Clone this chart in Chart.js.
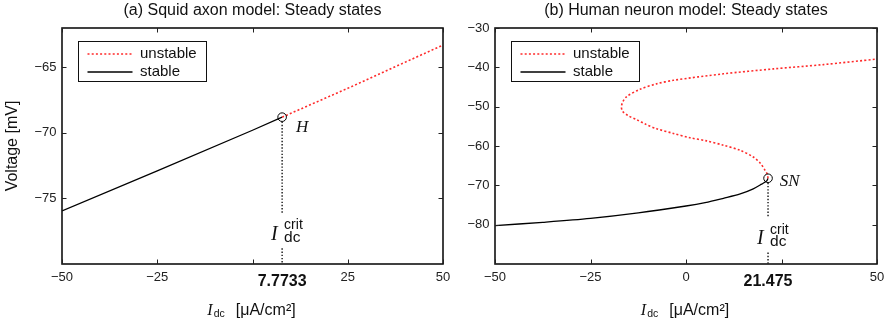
<!DOCTYPE html>
<html>
<head>
<meta charset="utf-8">
<script src="https://cdn.jsdelivr.net/npm/chart.js@4/dist/chart.umd.min.js"></script>
<style>
  html, body { margin: 0; padding: 0; background: #fff; width: 890px; height: 327px; overflow: hidden; }
  canvas { position: absolute; top: 0; }
  #squid { left: 0; }
  #human { left: 440px; }
</style>
</head>
<body>
<canvas id="squid" width="460" height="327"></canvas>
<canvas id="human" width="450" height="327"></canvas>
<script>
// ---------------- data ----------------
const xTickValues = [-50, -25, 0, 25, 50];

// (a) Squid axon model
const squidTitle = '(a) Squid axon model: Steady states';
const squidCritI = 7.7733;
const squidCritV = -68.8;
const squidStableI = [-50, -25, 0, 7.7733];
const squidStableV = [-75.95, -72.9, -69.8, -68.8];
const squidUnstableI = [7.7733, 25, 50];
const squidUnstableV = [-68.8, -66.6, -63.3];
const squidYTicks = [-75, -70, -65];
const squidHiddenXLabel = 0;
const squidPointName = 'H';

// (b) Human neuron model
const humanTitle = '(b) Human neuron model: Steady states';
const humanCritI = 21.475;
const humanCritV = -68.2;
const humanStableI = [-50, -37.5, -25, -12.5, 0, 5, 9.8, 14.2, 17.6, 19.8, 21.1, 21.475];
const humanStableV = [-80.25, -79.4, -78.4, -77.0, -75.25, -74.4, -73.3, -72.2, -70.9, -69.7, -68.9, -68.2];
const humanUnstableI = [21.475, 21.3, 20.7, 19.4, 17.6, 14.2, 9.8, 5.4, 1.05, -3.3, -7.7, -10.5, -12.9, -15.1, -16.6, -16.9, -16.6, -15.6, -12.1, -7.7, -3.3, 9.8, 22.9, 36, 50];
const humanUnstableV = [-68.2, -67.2, -66.2, -64.3, -62.8, -61.1, -59.8, -58.7, -57.9, -56.8, -55.6, -54.5, -53.3, -52.3, -51.2, -50.1, -48.9, -47.5, -45.6, -44.2, -43.3, -41.65, -40.4, -39.3, -37.9];
const humanYTicks = [-80, -70, -60, -50, -40, -30];
const humanHiddenXLabel = 25;
const humanPointName = 'SN';

const legendNames = ['unstable', 'stable'];
const yAxisTitle = 'Voltage [mV]';

// ---------------- rendering ----------------
const SANS = '"Liberation Sans", Arial, Helvetica, sans-serif';
const SERIF = '"Liberation Serif", "Times New Roman", serif';
Chart.defaults.font.family = SANS;
Chart.defaults.color = '#111';

const fmt = v => (v < 0 ? '\u2212' + Math.abs(v) : String(v));
const pts = (xs, ys) => xs.map((x, i) => ({ x: x, y: ys[i] }));
const LEG_PAD = 3;
const LEG_LINE = 45;
const LEG_FONT = 15;

function makePanel(id, p) {
  const decor = {
    id: 'decor',
    afterLayout(chart) {
      const lg = chart.legend, ca = chart.chartArea;
      if (!lg) return;
      lg.left = ca.left + 25.5 - LEG_PAD;
      lg.top = ca.top + 26 - LEG_FONT / 2 - LEG_PAD;
      lg.width = 160; lg.height = 60;
      lg.right = lg.left + lg.width; lg.bottom = lg.top + lg.height;
    },
    beforeDatasetsDraw(chart) {
      const ctx = chart.ctx, ca = chart.chartArea;
      const cx = chart.scales.x.getPixelForValue(p.critI);
      const cy = chart.scales.y.getPixelForValue(p.critV);
      const ib = ca.bottom - p.labelRise;
      ctx.save();
      ctx.strokeStyle = '#000'; ctx.lineWidth = 1.3; ctx.setLineDash([1.4, 1.8]);
      ctx.beginPath();
      ctx.moveTo(cx, cy + 4.5); ctx.lineTo(cx, ib - 27);
      ctx.moveTo(cx, ib + 8.3); ctx.lineTo(cx, ca.bottom);
      ctx.stroke();
      ctx.restore();
    },
    afterDraw(chart) {
      const ctx = chart.ctx, ca = chart.chartArea;
      const xs = chart.scales.x, ys = chart.scales.y;
      ctx.save();
      // frame
      ctx.strokeStyle = '#111'; ctx.lineWidth = 1.6; ctx.setLineDash([]);
      ctx.strokeRect(ca.left, ca.top, ca.right - ca.left, ca.bottom - ca.top);
      // inward tick marks
      ctx.lineWidth = 1; ctx.strokeStyle = '#222';
      ctx.beginPath();
      xTickValues.forEach(v => {
        const px = Math.round(xs.getPixelForValue(v)) + 0.5;
        ctx.moveTo(px, ca.top); ctx.lineTo(px, ca.top + 4.5);
        ctx.moveTo(px, ca.bottom); ctx.lineTo(px, ca.bottom - 4.5);
      });
      p.yTicks.forEach(v => {
        const py = Math.round(ys.getPixelForValue(v)) + 0.5;
        ctx.moveTo(ca.left, py); ctx.lineTo(ca.left + 4.5, py);
        ctx.moveTo(ca.right, py); ctx.lineTo(ca.right - 4.5, py);
      });
      ctx.stroke();
      // legend frame
      ctx.font = LEG_FONT + 'px ' + SANS;
      const maxW = Math.max(...legendNames.map(t => ctx.measureText(t).width));
      const lx0 = ca.left + 16;
      const lx1 = ca.left + 25.5 + LEG_LINE + LEG_FONT / 2 + maxW + 9;
      ctx.strokeStyle = '#111'; ctx.lineWidth = 1;
      ctx.strokeRect(Math.round(lx0) + 0.5, Math.round(ca.top + 13) + 0.5, Math.round(lx1 - lx0), 40);
      // point name (H / SN)
      const cx = xs.getPixelForValue(p.critI);
      const cy = ys.getPixelForValue(p.critV);
      ctx.fillStyle = '#111';
      ctx.textBaseline = 'alphabetic'; ctx.textAlign = 'left';
      ctx.font = 'italic 17px ' + SERIF;
      ctx.fillText(p.pointName, cx + p.nameDX, cy + p.nameDY);
      // I_dc^crit label
      const ib = ca.bottom - p.labelRise;
      ctx.font = 'italic 20px ' + SERIF;
      ctx.fillText('I', cx - 11, ib);
      ctx.font = '14px ' + SANS;
      ctx.fillText('crit', cx + 2, ib - 10.7);
      ctx.font = '15.5px ' + SANS;
      ctx.fillText('dc', cx + 2, ib + 1.7);
      // x axis title: I_dc  [μA/cm²]
      const base = 315;
      ctx.font = 'italic 16px ' + SERIF; const wI = ctx.measureText('I').width;
      ctx.font = '10.5px ' + SANS; const wD = ctx.measureText('dc').width;
      ctx.font = '16px ' + SANS; const wU = ctx.measureText('[\u03bcA/cm\u00b2]').width;
      const total = wI + 1 + wD + 11 + wU;
      let x0 = (ca.left + ca.right) / 2 - 1 - total / 2;
      ctx.font = 'italic 16px ' + SERIF; ctx.fillText('I', x0, base);
      x0 += wI + 1;
      ctx.font = '10.5px ' + SANS; ctx.fillText('dc', x0, base + 1.7);
      x0 += wD + 11;
      ctx.font = '16px ' + SANS; ctx.fillText('[\u03bcA/cm\u00b2]', x0, base);
      ctx.restore();
    }
  };

  const regFont = { size: 13, family: SANS };
  const boldFont = { size: 16, weight: 'bold', family: SANS, lineHeight: 1.5 };

  return new Chart(document.getElementById(id), {
    type: 'scatter',
    data: {
      datasets: [
        {
          label: 'critical point',
          data: [{ x: p.critI, y: p.critV }],
          showLine: false,
          pointRadius: 4.3,
          pointBorderWidth: 1,
          pointBorderColor: '#000',
          pointBackgroundColor: 'rgba(0,0,0,0)'
        },
        {
          label: legendNames[0],
          data: pts(p.unstableI, p.unstableV),
          showLine: true,
          borderColor: '#ff2a2a',
          borderWidth: 1.6,
          borderDash: [2, 2.2],
          pointRadius: 0,
          tension: p.tension
        },
        {
          label: legendNames[1],
          data: pts(p.stableI, p.stableV),
          showLine: true,
          borderColor: '#000',
          borderWidth: 1.3,
          pointRadius: 0,
          tension: p.tension
        }
      ]
    },
    options: {
      responsive: false,
      animation: false,
      devicePixelRatio: 1,
      layout: { padding: { left: 0, right: p.padRight, top: 0, bottom: 0 } },
      plugins: {
        tooltip: { enabled: false },
        title: {
          display: true,
          text: p.title,
          fullSize: false,
          color: '#111',
          font: { size: 16, weight: 'normal', family: SANS },
          padding: { top: 1.4, bottom: 7.4 }
        },
        legend: {
          display: true,
          position: 'chartArea',
          align: 'start',
          labels: {
            usePointStyle: true,
            pointStyleWidth: LEG_LINE,
            padding: LEG_PAD,
            color: '#111',
            font: { size: LEG_FONT, family: SANS },
            generateLabels: (chart) => [1, 2].map(i => {
              const ds = chart.data.datasets[i];
              return {
                text: ds.label,
                strokeStyle: ds.borderColor,
                fillStyle: ds.borderColor,
                lineWidth: ds.borderWidth,
                lineDash: ds.borderDash || [],
                pointStyle: 'line',
                hidden: false,
                datasetIndex: i,
                fontColor: '#111'
              };
            })
          }
        }
      },
      scales: {
        x: {
          type: 'linear',
          min: -50, max: 50,
          grid: { display: false, drawTicks: false },
          border: { display: false },
          afterBuildTicks: (s) => {
            s.ticks = xTickValues.concat([p.critI]).sort((a, b) => a - b).map(v => ({ value: v }));
          },
          afterFit: (s) => { s.height = 63; s.paddingLeft = 0; s.paddingRight = 0; },
          ticks: {
            autoSkip: false, maxRotation: 0, minRotation: 0,
            padding: 6,
            color: (c) => (c.tick && c.tick.value === p.critI ? '#111' : '#222'),
            font: (c) => (c.tick && c.tick.value === p.critI ? boldFont : regFont),
            callback: (v) => (v === p.hiddenX ? '' : fmt(v))
          }
        },
        y: {
          type: 'linear',
          min: p.yMin, max: p.yMax,
          grid: { display: false, drawTicks: false },
          border: { display: false },
          afterBuildTicks: (s) => { s.ticks = p.yTicks.map(v => ({ value: v })); },
          afterFit: (s) => { s.width = p.yWidth; },
          title: {
            display: !!p.yTitle,
            text: p.yTitle || '',
            color: '#111',
            font: { size: 16, family: SANS },
            padding: { top: 3.4, bottom: 0 }
          },
          ticks: {
            autoSkip: false,
            padding: 5.5,
            color: '#222',
            font: regFont,
            callback: (v) => fmt(v)
          }
        }
      }
    },
    plugins: [decor]
  });
}

makePanel('squid', {
  title: squidTitle, yTitle: yAxisTitle,
  critI: squidCritI, critV: squidCritV,
  stableI: squidStableI, stableV: squidStableV,
  unstableI: squidUnstableI, unstableV: squidUnstableV,
  yTicks: squidYTicks, yMin: -80, yMax: -62,
  hiddenX: squidHiddenXLabel, pointName: squidPointName,
  nameDX: 14, nameDY: 14.7, labelRise: 24,
  tension: 0, padRight: 17, yWidth: 62
});

makePanel('human', {
  title: humanTitle, yTitle: null,
  critI: humanCritI, critV: humanCritV,
  stableI: humanStableI, stableV: humanStableV,
  unstableI: humanUnstableI, unstableV: humanUnstableV,
  yTicks: humanYTicks, yMin: -90, yMax: -30,
  hiddenX: humanHiddenXLabel, pointName: humanPointName,
  nameDX: 11.7, nameDY: 7.7, labelRise: 19.7,
  tension: 0.3, padRight: 13, yWidth: 55
});
</script>
</body>
</html>
